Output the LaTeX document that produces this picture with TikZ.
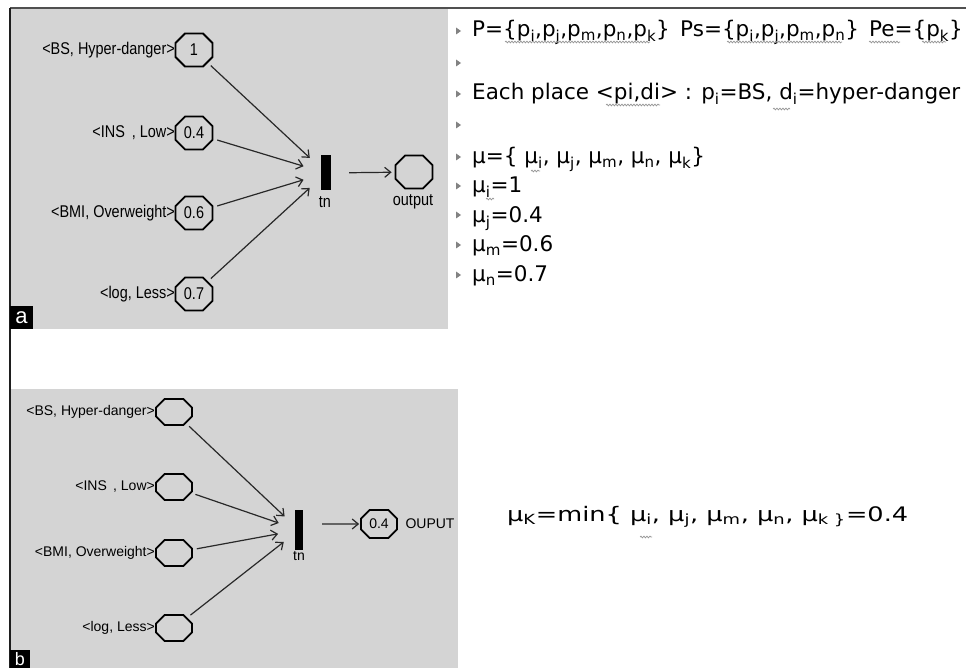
\documentclass[tikz,border=0pt]{standalone}
\usepackage{fontspec}
\usepackage{graphicx}
\setmainfont{DejaVu Sans}
\newfontfamily\lblA[FakeStretch=0.85]{Liberation Sans}
\newfontfamily\lblB{Liberation Sans}
\newfontfamily\txtf{DejaVu Sans}
\usetikzlibrary{shapes.misc,arrows.meta,decorations.pathmorphing}
\definecolor{panel}{RGB}{212,212,212}
\definecolor{conn}{RGB}{40,40,40}
\definecolor{bul}{RGB}{130,130,130}
\definecolor{squig}{RGB}{150,150,150}
\begin{document}
\begin{tikzpicture}[x=1pt,y=-1pt,
  placeA/.style={chamfered rectangle, chamfered rectangle xsep=9pt, draw=black, line width=1.8pt,
    minimum width=37pt, minimum height=33pt, inner sep=0pt, font=\lblA\fontsize{17}{17}\selectfont},
  placeB/.style={chamfered rectangle, chamfered rectangle xsep=8pt, draw=black, line width=1.8pt,
    minimum width=36pt, minimum height=26pt, inner sep=0pt, font=\lblB\fontsize{14}{14}\selectfont},
  lblAst/.style={anchor=east, inner sep=0pt, font=\lblA\fontsize{17}{17}\selectfont},
  lblBst/.style={anchor=east, inner sep=0pt, font=\lblB\fontsize{14}{14}\selectfont},
  barst/.style={fill=black, draw=none, inner sep=0pt},
  arc/.style={draw=conn, line width=1.2pt, -{Straight Barb[length=6pt,width=10pt,line width=1.2pt]}},
  rt/.style={anchor=base west, inner sep=0pt, font=\txtf\fontsize{21.5}{24}\selectfont},
  tag/.style={fill=black, text=white, inner sep=0pt, font=\lblB\fontsize{22}{22}\selectfont},
  wavy/.style={draw=squig, line width=0.7pt, decorate, decoration={snake, amplitude=0.9pt, segment length=3pt}}
]
\clip (0,0) rectangle (966,668);
\fill[white] (0,0) rectangle (966,668);
% panels
\fill[panel] (11,9) rectangle (448,329);
\fill[panel] (11,389) rectangle (458,668);
\draw[draw={rgb,255:red,80;green,80;blue,80}, line width=1.5pt] (10,8) -- (966,8);
\draw[draw={rgb,255:red,30;green,30;blue,30}, line width=1.5pt] (10,8) -- (10,668);
\node[tag, minimum width=23pt, minimum height=23pt] (tagA) at (21.5,317.5) {a};
\node[tag, minimum width=20pt, minimum height=18pt, font=\lblB\fontsize{18}{18}\selectfont] (tagB) at (20,659) {b};

% ---- panel a ----
\node[placeA] (pA1) at (194,50) {1};
\node[placeA] (pA2) at (194,133) {0.4};
\node[placeA] (pA3) at (194,213) {0.6};
\node[placeA] (pA4) at (194,294) {0.7};
\node[lblAst] (lA1) at (175,50) {<BS, Hyper-danger>};
\node[lblAst] (lA2) at (175,133) {<INS\, , Low>};
\node[lblAst] (lA3) at (175,213) {<BMI, Overweight>};
\node[lblAst] (lA4) at (175,294) {<log, Less>};
\node[barst, minimum width=10pt, minimum height=35pt] (tA) at (326,173) {};
\node[inner sep=0pt, font=\lblA\fontsize{17}{17}\selectfont] (tnA) at (325,202) {tn};
\node[placeA] (oA) at (414,172) {\phantom{0.4}};
\node[inner sep=0pt, font=\lblA\fontsize{17}{17}\selectfont] (outA) at (413,202) {output};
\draw[arc, shorten <=4pt, shorten >=15pt] (pA1) -- (tA);
\draw[arc, shorten <=4pt, shorten >=18pt] (pA2) -- (tA);
\draw[arc, shorten <=4pt, shorten >=18pt] (pA3) -- (tA);
\draw[arc, shorten <=4pt, shorten >=15pt] (pA4) -- (tA);
\draw[arc, shorten <=18pt, shorten >=3pt] (tA) -- (oA);

% ---- panel b ----
\node[placeB] (pB1) at (174,412) {\phantom{0.4}};
\node[placeB] (pB2) at (174,487) {\phantom{0.4}};
\node[placeB] (pB3) at (174,553) {\phantom{0.4}};
\node[placeB] (pB4) at (174,628) {\phantom{0.4}};
\node[lblBst] (lB1) at (155,412) {<BS, Hyper-danger>};
\node[lblBst] (lB2) at (155,487) {<INS\, , Low>};
\node[lblBst] (lB3) at (155,553) {<BMI, Overweight>};
\node[lblBst] (lB4) at (155,628) {<log, Less>};
\node[barst, minimum width=8pt, minimum height=40pt] (tB) at (299,530) {};
\node[inner sep=0pt, font=\lblB\fontsize{14}{14}\selectfont] (tnB) at (299,556) {tn};
\node[placeB, minimum height=28pt] (oB) at (379,524) {0.4};
\node[inner sep=0pt, font=\lblB\fontsize{14}{14}\selectfont] (outB) at (430,524) {OUPUT};
\draw[arc, shorten <=4pt, shorten >=14pt] (pB1) -- (tB);
\draw[arc, shorten <=4pt, shorten >=17pt] (pB2) -- (tB);
\draw[arc, shorten <=4pt, shorten >=17pt] (pB3) -- (tB);
\draw[arc, shorten <=4pt, shorten >=14pt] (pB4) -- (tB);
\draw[arc, shorten <=19pt, shorten >=1pt] (tB.east |- oB) -- (oB);

% ---- right text ----
\foreach \yy in {31,63,94,125,157,186,215,245,275}
  \fill[bul] (456,\yy-3.5) -- (461,\yy) -- (456,\yy+3.5) -- cycle;
\node[rt] (t1a) at (472,37) {P=\{p\textsubscript{i},p\textsubscript{j},p\textsubscript{m},p\textsubscript{n},p\textsubscript{k}\}};
\node[rt] (t1b) at (680,37) {Ps=\{p\textsubscript{i},p\textsubscript{j},p\textsubscript{m},p\textsubscript{n}\}};
\node[rt] (t1c) at (869,37) {Pe=\{p\textsubscript{k}\}};
\node[rt] (t3) at (472,100) {Each place <pi,di> : p\textsubscript{i}=BS, d\textsubscript{i}=hyper-danger};
\node[rt] (t5) at (472,164) {μ=\{ μ\textsubscript{i}, μ\textsubscript{j}, μ\textsubscript{m}, μ\textsubscript{n}, μ\textsubscript{k}\}};
\node[rt] (t6) at (472,193) {μ\textsubscript{i}=1};
\node[rt] (t7) at (472,223) {μ\textsubscript{j}=0.4};
\node[rt] (t8) at (472,252) {μ\textsubscript{m}=0.6};
\node[rt] (t9) at (472,282) {μ\textsubscript{n}=0.7};
\node[anchor=base west, inner sep=0pt, font=\txtf\fontsize{20}{22}\selectfont] (form) at (507,521)
  {\scalebox{1.28}[1]{μ\textsubscript{K}=min\{ μ\textsubscript{i}, μ\textsubscript{j}, μ\textsubscript{m}, μ\textsubscript{n}, μ\textsubscript{k \}}=0.4}};

% spell-check squiggles
\draw[wavy] (505,42) -- (650,42);
\draw[wavy] (727,42) -- (842,42);
\draw[wavy] (869,42) -- (900,42);
\draw[wavy] (922,42) -- (946,42);
\draw[wavy] (606,105) -- (660,105);
\draw[wavy] (773,109) -- (790,109);
\draw[wavy] (531,171) -- (540,171);
\draw[wavy] (486,199) -- (494,199);
\draw[wavy] (640,537) -- (652,537);
\end{tikzpicture}
\end{document}
